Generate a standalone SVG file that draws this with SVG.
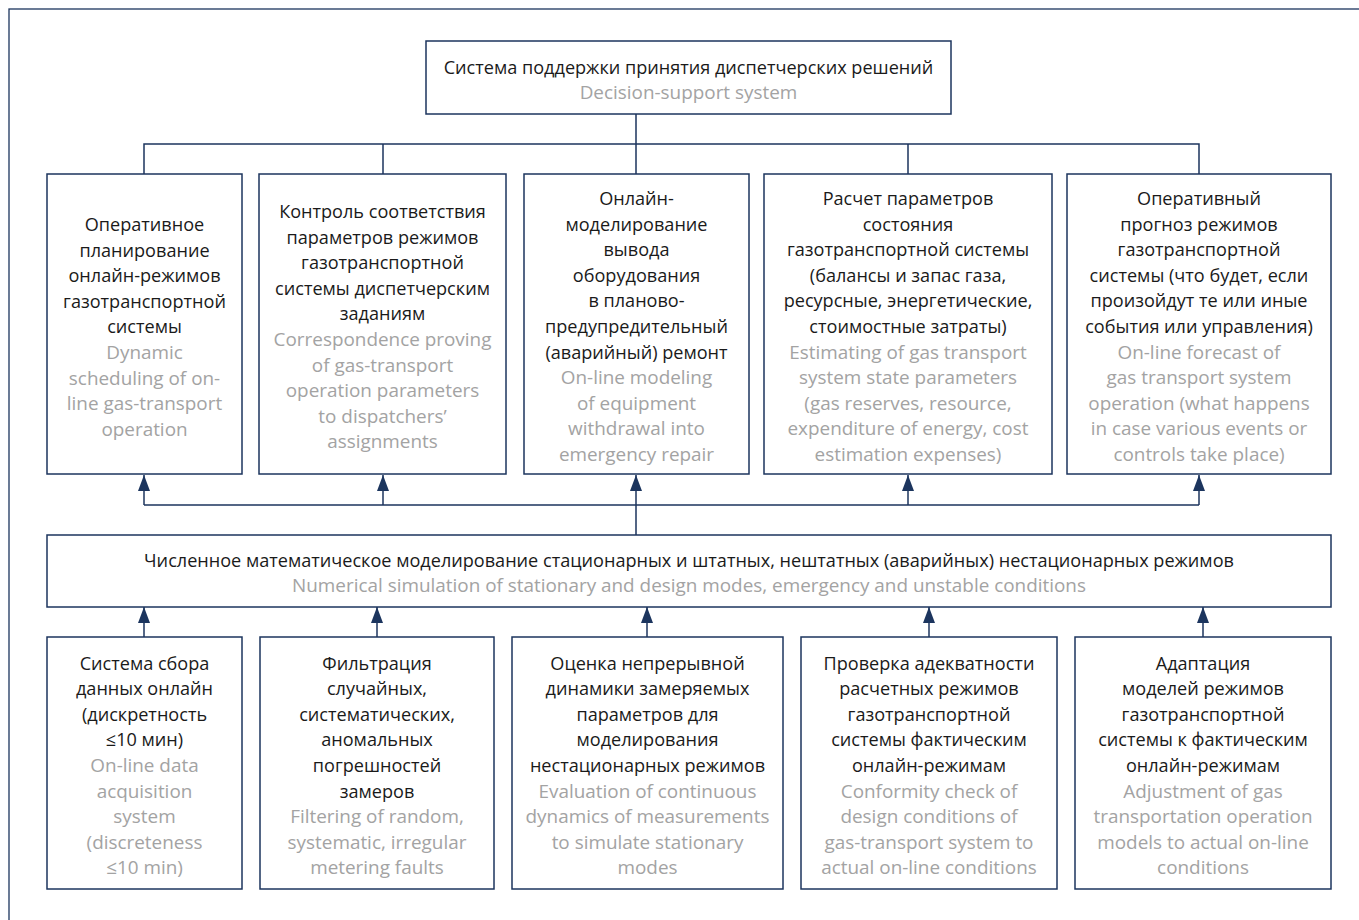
<svg xmlns="http://www.w3.org/2000/svg" width="1359" height="920" viewBox="0 0 1359 920">
<defs>
<style>
.box{fill:#fff;stroke:#1c355e;stroke-width:1.5}
.frame{fill:none;stroke:#1c355e;stroke-width:1.3}
.ln{fill:none;stroke:#1c355e;stroke-width:1.5}
text{font-family:"Open Sans","Noto Sans",sans-serif;font-size:18.1px;text-anchor:middle}
.ru{fill:#1a1a1a}
.en{fill:#a3a3a3;font-size:18.9px}
</style>
<marker id="ah" markerUnits="userSpaceOnUse" markerWidth="17" markerHeight="13" refX="16" refY="6" orient="auto" viewBox="0 0 17 13">
<path d="M0,0 L16,6 L0,12 Z" fill="#1c355e"/>
</marker>
</defs>
<rect x="0" y="0" width="1359" height="920" fill="#fff"/>
<rect class="frame" x="9" y="9" width="1400" height="1000"/>

<g id="connectors">
<path class="ln" d="M636,114 V174 M144,174 V144 H1199 V174 M383,144 V174 M908,144 V174"/>
<path class="ln" d="M636,535 V505 M144,505 H1199"/>
<path class="ln" d="M144,505 V475" marker-end="url(#ah)"/>
<path class="ln" d="M383,505 V475" marker-end="url(#ah)"/>
<path class="ln" d="M636,505 V475" marker-end="url(#ah)"/>
<path class="ln" d="M908,505 V475" marker-end="url(#ah)"/>
<path class="ln" d="M1199,505 V475" marker-end="url(#ah)"/>
<path class="ln" d="M144,637 V607" marker-end="url(#ah)"/>
<path class="ln" d="M377,637 V607" marker-end="url(#ah)"/>
<path class="ln" d="M647,637 V607" marker-end="url(#ah)"/>
<path class="ln" d="M929,637 V607" marker-end="url(#ah)"/>
<path class="ln" d="M1203,637 V607" marker-end="url(#ah)"/>
</g>

<g id="top">
<rect class="box" x="426" y="41" width="525" height="73"/>
<text x="688.5" y="73.5" class="ru">Система поддержки принятия диспетчерских решений</text>
<text x="688.5" y="98.5" class="en">Decision-support system</text>
</g>

<g id="t1">
<rect class="box" x="47" y="174" width="195" height="300"/>
<text x="144.5" y="231" class="ru"><tspan x="144.5">Оперативное</tspan><tspan x="144.5" dy="25.6">планирование</tspan><tspan x="144.5" dy="25.6">онлайн-режимов</tspan><tspan x="144.5" dy="25.6">газотранспортной</tspan><tspan x="144.5" dy="25.6">системы</tspan></text>
<text x="144.5" y="359" class="en"><tspan x="144.5">Dynamic</tspan><tspan x="144.5" dy="25.6">scheduling of on-</tspan><tspan x="144.5" dy="25.6">line gas-transport</tspan><tspan x="144.5" dy="25.6">operation</tspan></text>
</g>

<g id="t2">
<rect class="box" x="259" y="174" width="247" height="300"/>
<text x="382.5" y="218" class="ru"><tspan x="382.5">Контроль соответствия</tspan><tspan x="382.5" dy="25.6">параметров режимов</tspan><tspan x="382.5" dy="25.6">газотранспортной</tspan><tspan x="382.5" dy="25.6">системы диспетчерским</tspan><tspan x="382.5" dy="25.6">заданиям</tspan></text>
<text x="382.5" y="346" class="en"><tspan x="382.5">Correspondence proving</tspan><tspan x="382.5" dy="25.6">of gas-transport</tspan><tspan x="382.5" dy="25.6">operation parameters</tspan><tspan x="382.5" dy="25.6">to dispatchers’</tspan><tspan x="382.5" dy="25.6">assignments</tspan></text>
</g>

<g id="t3">
<rect class="box" x="524" y="174" width="225" height="300"/>
<text x="636.5" y="205" class="ru"><tspan x="636.5">Онлайн-</tspan><tspan x="636.5" dy="25.6">моделирование</tspan><tspan x="636.5" dy="25.6">вывода</tspan><tspan x="636.5" dy="25.6">оборудования</tspan><tspan x="636.5" dy="25.6">в планово-</tspan><tspan x="636.5" dy="25.6">предупредительный</tspan><tspan x="636.5" dy="25.6">(аварийный) ремонт</tspan></text>
<text x="636.5" y="384.2" class="en"><tspan x="636.5">On-line modeling</tspan><tspan x="636.5" dy="25.6">of equipment</tspan><tspan x="636.5" dy="25.6">withdrawal into</tspan><tspan x="636.5" dy="25.6">emergency repair</tspan></text>
</g>

<g id="t4">
<rect class="box" x="764" y="174" width="288" height="300"/>
<text x="908" y="205" class="ru"><tspan x="908">Расчет параметров</tspan><tspan x="908" dy="25.6">состояния</tspan><tspan x="908" dy="25.6">газотранспортной системы</tspan><tspan x="908" dy="25.6">(балансы и запас газа,</tspan><tspan x="908" dy="25.6">ресурсные, энергетические,</tspan><tspan x="908" dy="25.6">стоимостные затраты)</tspan></text>
<text x="908" y="358.6" class="en"><tspan x="908">Estimating of gas transport</tspan><tspan x="908" dy="25.6">system state parameters</tspan><tspan x="908" dy="25.6">(gas reserves, resource,</tspan><tspan x="908" dy="25.6">expenditure of energy, cost</tspan><tspan x="908" dy="25.6">estimation expenses)</tspan></text>
</g>

<g id="t5">
<rect class="box" x="1067" y="174" width="264" height="300"/>
<text x="1199" y="205" class="ru"><tspan x="1199">Оперативный</tspan><tspan x="1199" dy="25.6">прогноз режимов</tspan><tspan x="1199" dy="25.6">газотранспортной</tspan><tspan x="1199" dy="25.6">системы (что будет, если</tspan><tspan x="1199" dy="25.6">произойдут те или иные</tspan><tspan x="1199" dy="25.6">события или управления)</tspan></text>
<text x="1199" y="358.6" class="en"><tspan x="1199">On-line forecast of</tspan><tspan x="1199" dy="25.6">gas transport system</tspan><tspan x="1199" dy="25.6">operation (what happens</tspan><tspan x="1199" dy="25.6">in case various events or</tspan><tspan x="1199" dy="25.6">controls take place)</tspan></text>
</g>

<g id="mid">
<rect class="box" x="47" y="535" width="1284" height="72"/>
<text x="689" y="566.5" class="ru">Численное математическое моделирование стационарных и штатных, нештатных (аварийных) нестационарных режимов</text>
<text x="689" y="591.5" class="en">Numerical simulation of stationary and design modes, emergency and unstable conditions</text>
</g>

<g id="b1">
<rect class="box" x="47" y="637" width="195" height="252"/>
<text x="144.5" y="669.6" class="ru"><tspan x="144.5">Система сбора</tspan><tspan x="144.5" dy="25.6">данных онлайн</tspan><tspan x="144.5" dy="25.6">(дискретность</tspan><tspan x="144.5" dy="25.6">≤10 мин)</tspan></text>
<text x="144.5" y="772" class="en"><tspan x="144.5">On-line data</tspan><tspan x="144.5" dy="25.6">acquisition</tspan><tspan x="144.5" dy="25.6">system</tspan><tspan x="144.5" dy="25.6">(discreteness</tspan><tspan x="144.5" dy="25.6">≤10 min)</tspan></text>
</g>

<g id="b2">
<rect class="box" x="260" y="637" width="234" height="252"/>
<text x="377" y="669.6" class="ru"><tspan x="377">Фильтрация</tspan><tspan x="377" dy="25.6">случайных,</tspan><tspan x="377" dy="25.6">систематических,</tspan><tspan x="377" dy="25.6">аномальных</tspan><tspan x="377" dy="25.6">погрешностей</tspan><tspan x="377" dy="25.6">замеров</tspan></text>
<text x="377" y="823.2" class="en"><tspan x="377">Filtering of random,</tspan><tspan x="377" dy="25.6">systematic, irregular</tspan><tspan x="377" dy="25.6">metering faults</tspan></text>
</g>

<g id="b3">
<rect class="box" x="512" y="637" width="271" height="252"/>
<text x="647.5" y="669.6" class="ru"><tspan x="647.5">Оценка непрерывной</tspan><tspan x="647.5" dy="25.6">динамики замеряемых</tspan><tspan x="647.5" dy="25.6">параметров для</tspan><tspan x="647.5" dy="25.6">моделирования</tspan><tspan x="647.5" dy="25.6">нестационарных режимов</tspan></text>
<text x="647.5" y="797.6" class="en"><tspan x="647.5">Evaluation of continuous</tspan><tspan x="647.5" dy="25.6">dynamics of measurements</tspan><tspan x="647.5" dy="25.6">to simulate stationary</tspan><tspan x="647.5" dy="25.6">modes</tspan></text>
</g>

<g id="b4">
<rect class="box" x="801" y="637" width="256" height="252"/>
<text x="929" y="669.6" class="ru"><tspan x="929">Проверка адекватности</tspan><tspan x="929" dy="25.6">расчетных режимов</tspan><tspan x="929" dy="25.6">газотранспортной</tspan><tspan x="929" dy="25.6">системы фактическим</tspan><tspan x="929" dy="25.6">онлайн-режимам</tspan></text>
<text x="929" y="797.6" class="en"><tspan x="929">Conformity check of</tspan><tspan x="929" dy="25.6">design conditions of</tspan><tspan x="929" dy="25.6">gas-transport system to</tspan><tspan x="929" dy="25.6">actual on-line conditions</tspan></text>
</g>

<g id="b5">
<rect class="box" x="1075" y="637" width="256" height="252"/>
<text x="1203" y="669.6" class="ru"><tspan x="1203">Адаптация</tspan><tspan x="1203" dy="25.6">моделей режимов</tspan><tspan x="1203" dy="25.6">газотранспортной</tspan><tspan x="1203" dy="25.6">системы к фактическим</tspan><tspan x="1203" dy="25.6">онлайн-режимам</tspan></text>
<text x="1203" y="797.6" class="en"><tspan x="1203">Adjustment of gas</tspan><tspan x="1203" dy="25.6">transportation operation</tspan><tspan x="1203" dy="25.6">models to actual on-line</tspan><tspan x="1203" dy="25.6">conditions</tspan></text>
</g>
</svg>
